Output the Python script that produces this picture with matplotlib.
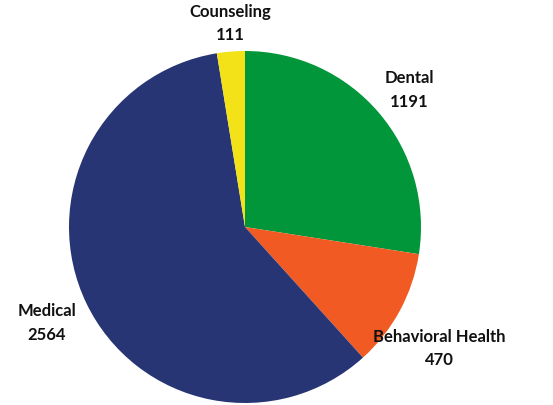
import numpy as np
import matplotlib
matplotlib.use('Agg')
import matplotlib.pyplot as plt

labels = ['Dental', 'Behavioral Health', 'Medical', 'Counseling']
values = [1191, 470, 2564, 111]
colors = ['#009639', '#F15A22', '#283574', '#F2E217']
label_dist = [1.22, 1.30, 1.25, 1.165]
label_turn = [-0.5, -3.4, 0.0, -0.5]  # degrees, nudge off the wedge mid-line

plt.rcParams['font.family'] = ['Lato', 'DejaVu Sans']

fig = plt.figure(figsize=(5.53, 4.06), dpi=100)
ax = fig.add_axes([0, 0, 1, 1])

# pie centred at (245, 228) px with radius 176 px
wedges, _ = ax.pie(values, colors=colors, startangle=90, counterclock=False,
                   radius=1.0, center=(0, 0))

for w, lab, val, d, t in zip(wedges, labels, values, label_dist, label_turn):
    mid = np.deg2rad((w.theta1 + w.theta2) / 2 + t)
    ax.text(d * np.cos(mid), d * np.sin(mid), f'{lab}\n{val}',
            ha='center', va='center', fontsize=12, fontweight='bold',
            color='#111111', linespacing=1.6)

ax.set_xlim(-245 / 176, (553 - 245) / 176)
ax.set_ylim(-(406 - 228) / 176, 228 / 176)
ax.set_aspect('equal')
ax.axis('off')

fig.savefig('out.png', dpi=100)
